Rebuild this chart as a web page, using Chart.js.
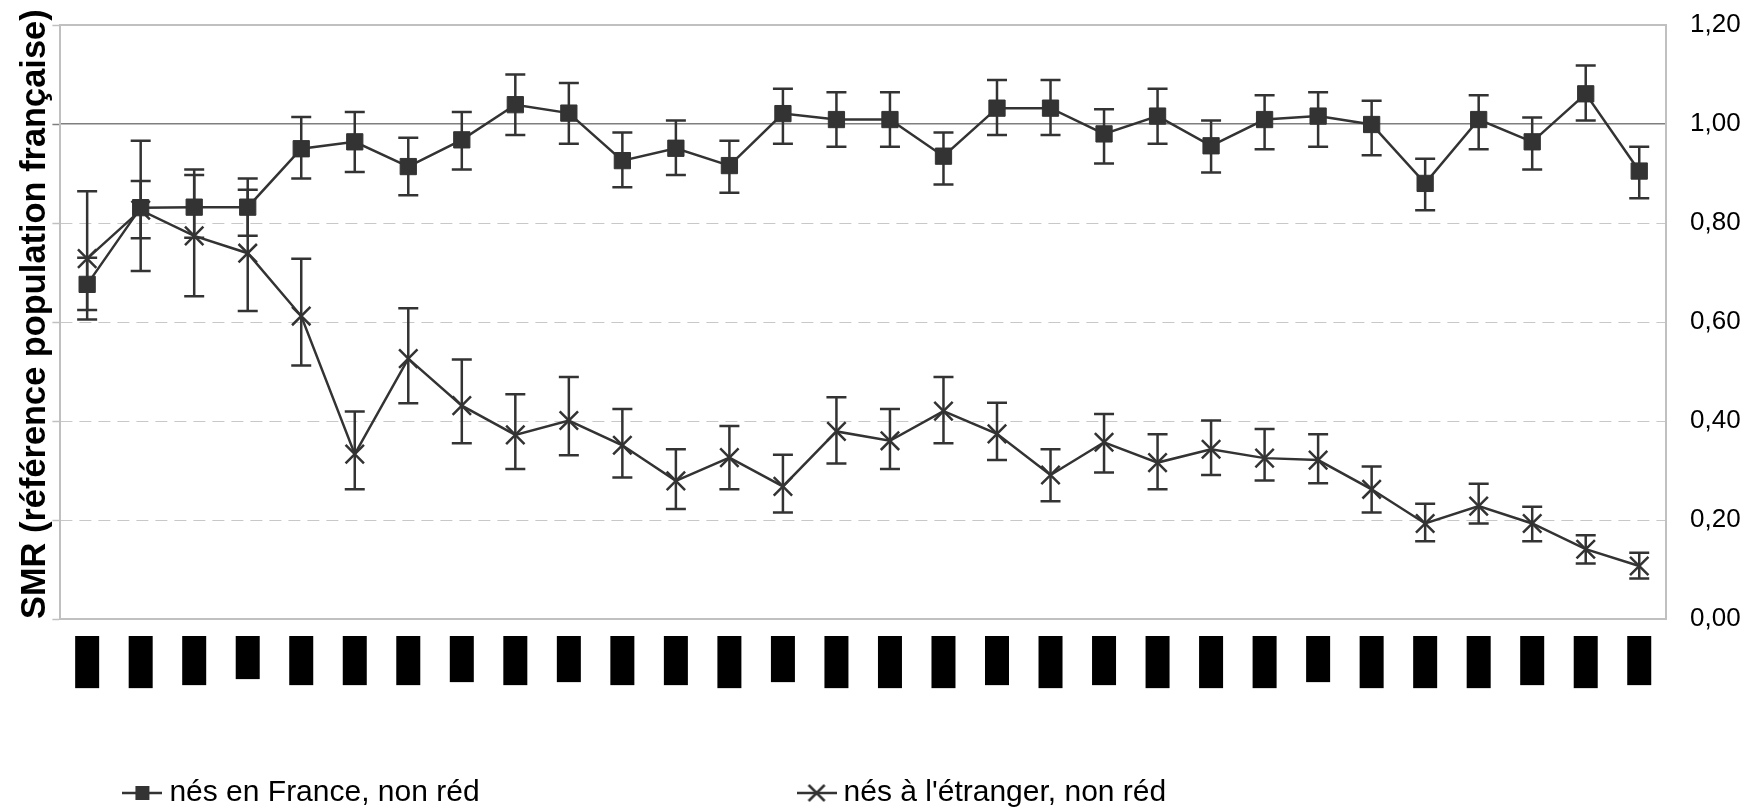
<!DOCTYPE html>
<html>
<head>
<meta charset="utf-8">
<script src="https://cdn.jsdelivr.net/npm/chart.js@4.4.1/dist/chart.umd.min.js"></script>
<style>
html,body{margin:0;padding:0;background:#fff;}
#wrap{width:1744px;height:809px;position:relative;}
</style>
</head>
<body>
<div id="wrap"><canvas id="c" width="1744" height="809"></canvas></div>
<script>
// Category labels (redacted in the source picture: shown as black blocks)
const categories = [
  '██████████████','██████████████','█████████████','███████████','█████████████',
  '█████████████','█████████████','████████████','█████████████','████████████',
  '█████████████','█████████████','██████████████','████████████','██████████████',
  '██████████████','██████████████','█████████████','██████████████','█████████████',
  '██████████████','██████████████','██████████████','████████████','██████████████',
  '██████████████','██████████████','█████████████','██████████████','█████████████'
];

const seriesNames = ['nés en France, non réd', "nés à l'étranger, non réd"];

const franceSMR  = [0.676,0.831,0.832,0.832,0.950,0.964,0.914,0.968,1.039,1.022,
                    0.926,0.951,0.916,1.021,1.009,1.009,0.935,1.032,1.032,0.980,
                    1.016,0.956,1.009,1.016,0.999,0.880,1.009,0.964,1.061,0.905];
const franceLow  = [0.624,0.769,0.770,0.774,0.890,0.903,0.856,0.908,0.978,0.960,
                    0.872,0.897,0.861,0.960,0.954,0.954,0.878,0.978,0.978,0.920,
                    0.960,0.902,0.949,0.954,0.937,0.826,0.949,0.908,1.007,0.850];
const franceHigh = [0.730,0.885,0.897,0.867,1.014,1.024,0.972,1.024,1.100,1.083,
                    0.983,1.007,0.966,1.071,1.064,1.064,0.983,1.089,1.089,1.030,
                    1.071,1.007,1.058,1.064,1.047,0.930,1.058,1.013,1.118,0.954];

const etrangerSMR  = [0.728,0.826,0.774,0.739,0.612,0.333,0.526,0.431,0.372,0.401,
                      0.351,0.279,0.326,0.268,0.379,0.360,0.420,0.374,0.291,0.357,
                      0.316,0.343,0.325,0.321,0.262,0.193,0.228,0.193,0.141,0.107];
const etrangerLow  = [0.605,0.703,0.652,0.622,0.512,0.262,0.436,0.355,0.303,0.331,
                      0.286,0.222,0.262,0.215,0.314,0.303,0.355,0.321,0.238,0.296,
                      0.262,0.291,0.280,0.274,0.215,0.157,0.193,0.157,0.112,0.082];
const etrangerHigh = [0.864,0.966,0.908,0.890,0.728,0.419,0.628,0.524,0.454,0.489,
                      0.424,0.343,0.390,0.332,0.448,0.424,0.489,0.437,0.343,0.414,
                      0.373,0.401,0.384,0.373,0.308,0.233,0.273,0.227,0.169,0.134];

const yMin = 0, yMax = 1.2, yStep = 0.2;
const refLines = [1.0, 1.2];

const INK = '#333333';
const fmt = v => v.toFixed(2).replace('.', ',');
const near = (a, b) => Math.abs(a - b) < 1e-6;

function legendSymbol(kind) {
  const c = document.createElement('canvas');
  c.width = 40; c.height = 22;
  const g = c.getContext('2d');
  g.strokeStyle = INK; g.fillStyle = INK; g.lineWidth = 2.5;
  g.beginPath(); g.moveTo(0, 11); g.lineTo(40, 11); g.stroke();
  if (kind === 'rect') {
    g.fillRect(20 - 7, 11 - 7, 14, 14);
  } else {
    g.beginPath();
    g.moveTo(20 - 8, 3); g.lineTo(20 + 8, 19);
    g.moveTo(20 + 8, 3); g.lineTo(20 - 8, 19);
    g.stroke();
  }
  return c;
}

const errorBars = {
  id: 'errorBars',
  beforeDatasetsDraw(chart) {
    const {ctx} = chart;
    const x = chart.scales.x, y = chart.scales.y;
    chart.data.datasets.forEach((ds) => {
      ctx.save();
      ctx.strokeStyle = INK;
      ctx.lineWidth = 2.5;
      ds.errLow.forEach((lo, i) => {
        const px = x.getPixelForValue(i);
        const yl = y.getPixelForValue(lo);
        const yh = y.getPixelForValue(ds.errHigh[i]);
        ctx.beginPath();
        ctx.moveTo(px, yl); ctx.lineTo(px, yh);
        ctx.moveTo(px - 10, yl); ctx.lineTo(px + 10, yl);
        ctx.moveTo(px - 10, yh); ctx.lineTo(px + 10, yh);
        ctx.stroke();
      });
      ctx.restore();
    });
  }
};

new Chart(document.getElementById('c'), {
  type: 'line',
  data: {
    labels: categories,
    datasets: [
      {
        label: seriesNames[0],
        data: franceSMR,
        errLow: franceLow, errHigh: franceHigh,
        yAxisID: 'y',
        borderColor: INK, backgroundColor: INK, borderWidth: 2.5,
        pointStyle: 'rect', pointRadius: 11.5, pointBorderWidth: 1,
        pointBackgroundColor: INK, pointBorderColor: INK, tension: 0
      },
      {
        label: seriesNames[1],
        data: etrangerSMR,
        errLow: etrangerLow, errHigh: etrangerHigh,
        yAxisID: 'y',
        borderColor: INK, backgroundColor: INK, borderWidth: 2.5,
        pointStyle: 'crossRot', pointRadius: 13, pointBorderWidth: 2.5,
        pointBackgroundColor: INK, pointBorderColor: INK, tension: 0
      }
    ]
  },
  options: {
    responsive: false,
    animation: false,
    devicePixelRatio: 1,
    layout: { padding: { left: 18, right: 0, top: 25, bottom: 0 } },
    plugins: {
      tooltip: { enabled: false },
      legend: {
        position: 'bottom',
        align: 'start',
        fullSize: false,
        maxHeight: 101,
        labels: {
          usePointStyle: true,
          pointStyleWidth: 24,
          padding: 70,
          color: '#000',
          font: { family: 'Liberation Sans', size: 30 },
          generateLabels(chart) {
            const syms = [legendSymbol('rect'), legendSymbol('x')];
            return chart.data.datasets.map((ds, i) => ({
              text: ds.label + (i === 0 ? '\u2002'.repeat(17) : ''),
              pointStyle: syms[i],
              fillStyle: INK, strokeStyle: INK, lineWidth: 0,
              hidden: false, datasetIndex: i
            }));
          }
        }
      }
    },
    scales: {
      x: {
        offset: true,
        grid: { display: false, drawTicks: false },
        border: { display: true, color: '#c0c0c0', width: 2 },
        ticks: {
          autoSkip: false, maxRotation: 90, minRotation: 90, padding: 22,
          color: '#000',
          font: { family: 'DejaVu Sans Mono', size: 5, lineHeight: 1 },
          showLabelBackdrop: true, backdropColor: '#000',
          backdropPadding: { top: 12, bottom: 7, left: 5, right: 5 }
        },
        afterFit(s) { s.height = 89; }
      },
      yL: {
        position: 'left',
        min: yMin, max: yMax,
        ticks: { display: false, stepSize: yStep },
        grid: {
          drawOnChartArea: false, drawTicks: true, tickLength: 8, tickWidth: 1.5,
          tickColor: c => near(c.tick.value, 1) ? '#7f7f7f' : '#c0c0c0'
        },
        border: { color: '#c0c0c0', width: 2 },
        title: {
          display: true,
          align: 'start',
          text: 'SMR (référence population française)',
          color: '#000',
          font: { family: 'Liberation Sans', size: 34.4, weight: 'bold', lineHeight: 1 },
          padding: { top: 0, bottom: 0 }
        }
      },
      y: {
        position: 'right',
        min: yMin, max: yMax,
        ticks: {
          stepSize: yStep, padding: 0, color: '#000',
          font: { family: 'Liberation Sans', size: 26 },
          callback: v => fmt(v)
        },
        grid: {
          drawTicks: true, tickLength: 24, tickColor: 'rgba(0,0,0,0)', lineWidth: 1,
          color: c => {
            const v = c.tick.value;
            return (v > 0.01 && v < 0.99) ? '#c8c8c8' : 'rgba(0,0,0,0)';
          }
        },
        border: { color: '#c0c0c0', width: 2, dash: [12, 7] },
        afterFit(s) { s.width = 78; }
      },
      y2: {
        position: 'right',
        min: yMin, max: yMax,
        afterBuildTicks(axis) { axis.ticks = refLines.map(v => ({ value: v })); },
        ticks: { display: false },
        grid: {
          drawTicks: false,
          color: c => near(c.tick.value, 1) ? '#7f7f7f' : '#c0c0c0',
          lineWidth: c => near(c.tick.value, 1) ? 1.5 : 2
        },
        border: { display: false }
      }
    }
  },
  plugins: [errorBars]
});
</script>
</body>
</html>
